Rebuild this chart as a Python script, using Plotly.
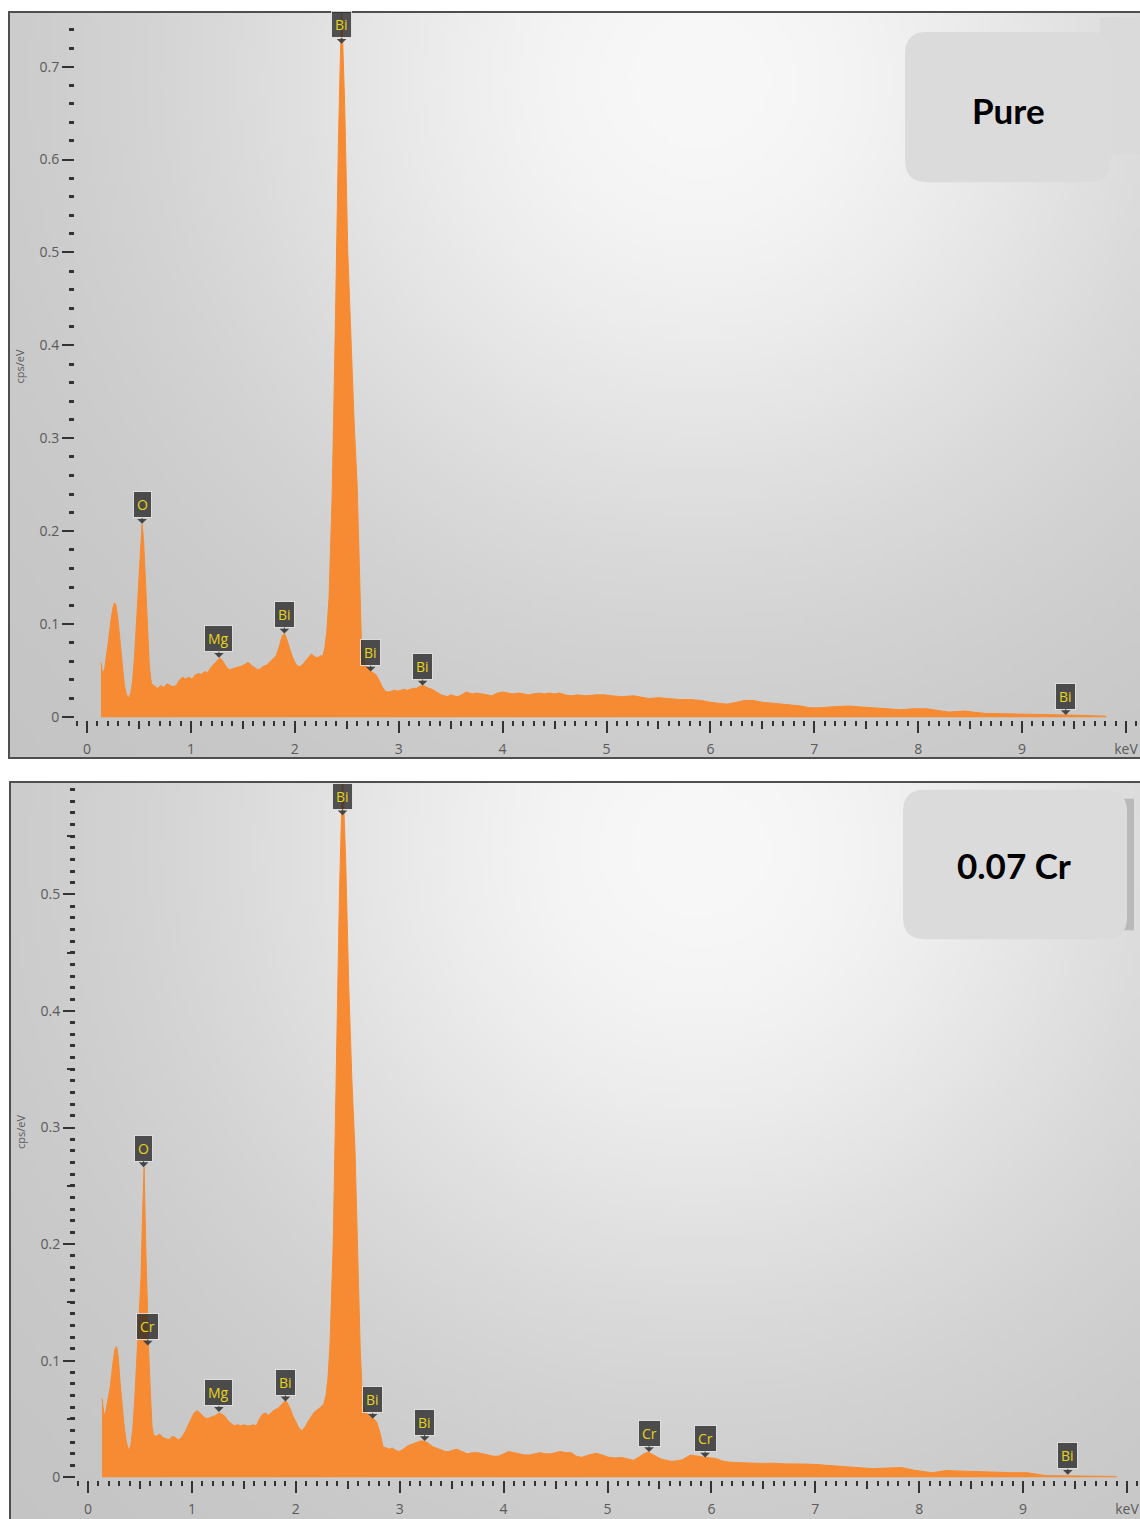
import base64
import struct
import zlib

import numpy as np
import plotly.graph_objects as go

# ---------------------------------------------------------------- data
# EDS spectrum, pure sample (energy in keV, intensity in cps/eV)
energy_pure = [
    0.135, 0.150, 0.170, 0.190, 0.210, 0.230, 0.250, 0.265, 0.280, 0.300,
    0.320, 0.340, 0.360, 0.380, 0.400, 0.420, 0.440, 0.460, 0.480, 0.500,
    0.520, 0.530, 0.545, 0.560, 0.580, 0.600, 0.620, 0.650, 0.680, 0.710,
    0.740, 0.770, 0.800, 0.830, 0.860, 0.890, 0.920, 0.950, 0.980, 1.010,
    1.040, 1.070, 1.100, 1.130, 1.160, 1.190, 1.220, 1.250, 1.280, 1.310,
    1.340, 1.370, 1.400, 1.430, 1.460, 1.490, 1.520, 1.550, 1.580, 1.610,
    1.640, 1.670, 1.700, 1.730, 1.760, 1.790, 1.820, 1.850, 1.880, 1.900,
    1.920, 1.950, 1.980, 2.010, 2.040, 2.070, 2.100, 2.130, 2.160, 2.190,
    2.220, 2.250, 2.270, 2.290, 2.310, 2.330, 2.360, 2.390, 2.420, 2.450,
    2.480, 2.510, 2.540, 2.570, 2.600, 2.620, 2.640, 2.660, 2.690, 2.720,
    2.750, 2.780, 2.810, 2.840, 2.870, 2.900, 2.930, 2.960, 2.990, 3.020,
    3.050, 3.080, 3.110, 3.140, 3.170, 3.200, 3.230, 3.260, 3.290, 3.320,
    3.350, 3.380, 3.410, 3.440, 3.470, 3.500, 3.530, 3.560, 3.590, 3.620,
    3.650, 3.680, 3.710, 3.750, 3.800, 3.850, 3.900, 3.950, 4.000, 4.050,
    4.100, 4.150, 4.200, 4.250, 4.300, 4.350, 4.400, 4.450, 4.500, 4.550,
    4.600, 4.660, 4.720, 4.800, 4.900, 4.980, 5.050, 5.150, 5.260, 5.340,
    5.410, 5.500, 5.620, 5.700, 5.800, 5.910, 6.000, 6.080, 6.160, 6.250,
    6.330, 6.410, 6.500, 6.600, 6.690, 6.780, 6.870, 6.960, 7.050, 7.150,
    7.250, 7.330, 7.450, 7.580, 7.700, 7.830, 7.950, 8.080, 8.200, 8.300,
    8.440, 8.550, 8.650, 8.800, 8.940, 9.050, 9.190, 9.300, 9.430, 9.550,
    9.680, 9.810,
]
counts_pure = [
    0.059, 0.046, 0.052, 0.066, 0.085, 0.104, 0.118, 0.123, 0.120, 0.103,
    0.078, 0.052, 0.034, 0.024, 0.021, 0.025, 0.040, 0.070, 0.110, 0.160,
    0.200, 0.208, 0.190, 0.150, 0.095, 0.055, 0.036, 0.033, 0.031, 0.034,
    0.032, 0.036, 0.034, 0.033, 0.034, 0.040, 0.043, 0.041, 0.043, 0.041,
    0.045, 0.047, 0.046, 0.049, 0.048, 0.053, 0.057, 0.061, 0.064, 0.060,
    0.054, 0.051, 0.052, 0.053, 0.054, 0.055, 0.057, 0.059, 0.056, 0.053,
    0.051, 0.052, 0.055, 0.056, 0.059, 0.062, 0.066, 0.076, 0.088, 0.090,
    0.085, 0.074, 0.064, 0.057, 0.054, 0.056, 0.060, 0.063, 0.068, 0.065,
    0.064, 0.066, 0.066, 0.075, 0.095, 0.130, 0.240, 0.420, 0.620, 0.765,
    0.660, 0.500, 0.400, 0.320, 0.250, 0.150, 0.085, 0.062, 0.055, 0.050,
    0.048, 0.046, 0.040, 0.033, 0.028, 0.027, 0.028, 0.029, 0.028, 0.029,
    0.030, 0.029, 0.030, 0.031, 0.031, 0.033, 0.034, 0.033, 0.031, 0.030,
    0.028, 0.026, 0.024, 0.023, 0.022, 0.024, 0.023, 0.022, 0.023, 0.025,
    0.027, 0.026, 0.025, 0.026, 0.025, 0.024, 0.023, 0.026, 0.027, 0.026,
    0.025, 0.026, 0.025, 0.024, 0.025, 0.026, 0.025, 0.026, 0.025, 0.026,
    0.024, 0.023, 0.024, 0.023, 0.024, 0.024, 0.023, 0.022, 0.023, 0.021,
    0.020, 0.021, 0.020, 0.019, 0.019, 0.018, 0.016, 0.015, 0.014, 0.016,
    0.018, 0.018, 0.016, 0.015, 0.014, 0.013, 0.012, 0.010, 0.010, 0.011,
    0.012, 0.012, 0.011, 0.010, 0.009, 0.008, 0.009, 0.009, 0.007, 0.0055,
    0.0065, 0.005, 0.004, 0.0037, 0.0035, 0.003, 0.0028, 0.0025, 0.0023, 0.002,
    0.0015, 0.001,
]

# EDS spectrum, 0.07 Cr sample
energy_cr = [
    0.135, 0.155, 0.175, 0.195, 0.215, 0.240, 0.260, 0.275, 0.290, 0.310,
    0.330, 0.350, 0.370, 0.390, 0.410, 0.430, 0.450, 0.470, 0.490, 0.510,
    0.525, 0.540, 0.555, 0.570, 0.585, 0.600, 0.615, 0.630, 0.660, 0.690,
    0.720, 0.750, 0.780, 0.810, 0.840, 0.870, 0.900, 0.930, 0.960, 0.990,
    1.020, 1.050, 1.080, 1.110, 1.140, 1.170, 1.200, 1.230, 1.260, 1.290,
    1.320, 1.350, 1.380, 1.410, 1.440, 1.470, 1.500, 1.530, 1.560, 1.590,
    1.620, 1.650, 1.680, 1.710, 1.740, 1.770, 1.800, 1.830, 1.860, 1.890,
    1.910, 1.940, 1.970, 2.000, 2.030, 2.060, 2.090, 2.120, 2.150, 2.180,
    2.210, 2.240, 2.270, 2.290, 2.310, 2.330, 2.360, 2.390, 2.420, 2.450,
    2.480, 2.510, 2.540, 2.570, 2.600, 2.620, 2.640, 2.660, 2.690, 2.720,
    2.750, 2.780, 2.810, 2.840, 2.870, 2.900, 2.930, 2.960, 2.990, 3.020,
    3.050, 3.080, 3.110, 3.140, 3.170, 3.200, 3.230, 3.260, 3.290, 3.320,
    3.350, 3.380, 3.410, 3.440, 3.470, 3.500, 3.550, 3.600, 3.650, 3.700,
    3.750, 3.800, 3.850, 3.900, 3.950, 4.000, 4.050, 4.100, 4.150, 4.200,
    4.250, 4.300, 4.350, 4.400, 4.450, 4.500, 4.540, 4.600, 4.650, 4.700,
    4.750, 4.820, 4.890, 4.950, 5.010, 5.080, 5.140, 5.200, 5.250, 5.300,
    5.350, 5.390, 5.440, 5.510, 5.560, 5.610, 5.670, 5.720, 5.760, 5.800,
    5.870, 5.940, 6.000, 6.050, 6.100, 6.160, 6.250, 6.330, 6.410, 6.500,
    6.600, 6.700, 6.800, 6.900, 6.980, 7.100, 7.260, 7.400, 7.550, 7.700,
    7.830, 7.950, 8.050, 8.120, 8.200, 8.260, 8.370, 8.480, 8.620, 8.760,
    8.900, 9.040, 9.130, 9.220, 9.400, 9.530, 9.700, 9.900,
]
counts_cr = [
    0.068, 0.052, 0.058, 0.068, 0.078, 0.098, 0.110, 0.112, 0.104, 0.080,
    0.058, 0.042, 0.030, 0.023, 0.026, 0.040, 0.068, 0.100, 0.128, 0.170,
    0.225, 0.266, 0.200, 0.140, 0.105, 0.074, 0.045, 0.036, 0.035, 0.037,
    0.034, 0.033, 0.032, 0.035, 0.034, 0.032, 0.034, 0.038, 0.044, 0.050,
    0.055, 0.057, 0.055, 0.052, 0.050, 0.051, 0.052, 0.053, 0.055, 0.054,
    0.052, 0.048, 0.046, 0.044, 0.045, 0.044, 0.045, 0.044, 0.044, 0.045,
    0.044, 0.050, 0.054, 0.055, 0.053, 0.056, 0.058, 0.059, 0.062, 0.065,
    0.065, 0.060, 0.053, 0.047, 0.042, 0.040, 0.043, 0.048, 0.052, 0.056,
    0.058, 0.060, 0.063, 0.070, 0.085, 0.116, 0.200, 0.340, 0.500, 0.605,
    0.530, 0.420, 0.340, 0.280, 0.170, 0.110, 0.070, 0.058, 0.054, 0.051,
    0.050, 0.047, 0.038, 0.026, 0.025, 0.024, 0.025, 0.023, 0.022, 0.023,
    0.025, 0.027, 0.028, 0.029, 0.030, 0.031, 0.031, 0.030, 0.028, 0.026,
    0.025, 0.024, 0.023, 0.022, 0.022, 0.023, 0.024, 0.022, 0.020, 0.021,
    0.021, 0.020, 0.019, 0.018, 0.018, 0.020, 0.022, 0.021, 0.020, 0.019,
    0.019, 0.020, 0.021, 0.020, 0.020, 0.021, 0.022, 0.021, 0.021, 0.018,
    0.017, 0.019, 0.0205, 0.019, 0.017, 0.0165, 0.0168, 0.0155, 0.0146, 0.017,
    0.020, 0.0215, 0.019, 0.0158, 0.0145, 0.0136, 0.014, 0.015, 0.017, 0.019,
    0.018, 0.0168, 0.0165, 0.0158, 0.014, 0.013, 0.0125, 0.0125, 0.012, 0.0118,
    0.012, 0.0114, 0.011, 0.0112, 0.011, 0.0103, 0.0095, 0.0085, 0.0073, 0.0078,
    0.0082, 0.006, 0.0045, 0.0038, 0.0048, 0.0057, 0.0053, 0.005, 0.0042, 0.0038,
    0.0038, 0.0038, 0.0025, 0.0013, 0.0011, 0.001, 0.0008, 0.0006,
]

# peak identification tags: element, energy (keV), tag anchor (cps/eV)
tag_pure_el = ["Bi", "O", "Mg", "Bi", "Bi", "Bi", "Bi"]
tag_pure_e = [2.45, 0.53, 1.27, 1.90, 2.73, 3.23, 9.42]
tag_pure_y = [0.7245, 0.208, 0.064, 0.090, 0.049, 0.034, 0.0023]

tag_cr_el = ["Bi", "O", "Cr", "Mg", "Bi", "Bi", "Bi", "Cr", "Cr", "Bi"]
tag_cr_e = [2.45, 0.535, 0.575, 1.26, 1.90, 2.74, 3.24, 5.40, 5.94, 9.43]
tag_cr_y = [0.568, 0.266, 0.113, 0.056, 0.065, 0.050, 0.031, 0.0215, 0.0168, 0.002]

x_tick_vals = list(range(11))
x_tick_text = ["0", "1", "2", "3", "4", "5", "6", "7", "8", "9", "keV"]

panel_titles = ["Pure", "0.07 Cr"]

# ---------------------------------------------------------------- layout helpers
W, H = 1140, 1519
ORANGE = "#F68B33"
TICK_FONT = dict(family="Open Sans, Noto Sans, sans-serif", size=14, color="#5a5a5a")


def px_x(px):
    return px / W


def px_y(py):
    return 1 - py / H


def gray_png(w, h, cx, cy, spread, lo, hi):
    """Radial grey wash used as the panel background."""
    xs = (np.arange(w) + 0.5) / w
    ys = (np.arange(h) + 0.5) / h
    X, Y = np.meshgrid(xs, ys)
    d2 = ((X - cx) / spread[0]) ** 2 + ((Y - cy) / spread[1]) ** 2
    v = (lo + (hi - lo) * np.exp(-d2)).clip(0, 255).astype(np.uint8)
    raw = b"".join(b"\x00" + row.tobytes() for row in v)

    def chunk(tag, data):
        return (struct.pack(">I", len(data)) + tag + data
                + struct.pack(">I", zlib.crc32(tag + data) & 0xFFFFFFFF))

    png = (b"\x89PNG\r\n\x1a\n"
           + chunk(b"IHDR", struct.pack(">IIBBBBB", w, h, 8, 0, 0, 0, 0))
           + chunk(b"IDAT", zlib.compress(raw, 9))
           + chunk(b"IEND", b""))
    return "data:image/png;base64," + base64.b64encode(png).decode()


def rounded_rect(x0, y0, x1, y1, r):
    X = lambda v: f"{px_x(v):.5f}"
    Y = lambda v: f"{px_y(v):.5f}"
    return (f"M{X(x0 + r)},{Y(y0)} L{X(x1 - r)},{Y(y0)} Q{X(x1)},{Y(y0)} {X(x1)},{Y(y0 + r)} "
            f"L{X(x1)},{Y(y1 - r)} Q{X(x1)},{Y(y1)} {X(x1 - r)},{Y(y1)} "
            f"L{X(x0 + r)},{Y(y1)} Q{X(x0)},{Y(y1)} {X(x0)},{Y(y1 - r)} "
            f"L{X(x0)},{Y(y0 + r)} Q{X(x0)},{Y(y0)} {X(x0 + r)},{Y(y0)} Z")


# panel geometry in pixels
panels = [
    dict(frame=(9, 12, 761), zero_px=(87, 720), kev_px=103.9, unit_px=933.0,
         plot_left=76, plot_top=13, axis_px=74, minor=0.02, mid=None,
         box=(905, 32, 1111, 183), text_xy=(1008, 110), back=(1100, 17, 1142, 155, "#dadada")),
    dict(frame=(10, 785, 1530), zero_px=(88, 1483), kev_px=103.9, unit_px=1170.0,
         plot_left=77, plot_top=787, axis_px=75, minor=0.01, mid=0.05,
         box=(903, 793, 1127, 943), text_xy=(1014, 868), back=(1120, 802, 1134, 934, "#b9b9b9")),
]

spectra = [(energy_pure, counts_pure), (energy_cr, counts_cr)]
tags = [(tag_pure_el, tag_pure_e, tag_pure_y), (tag_cr_el, tag_cr_e, tag_cr_y)]

fig = go.Figure()
layout = dict(
    width=W, height=H, margin=dict(l=0, r=0, t=0, b=0),
    paper_bgcolor="white", plot_bgcolor="rgba(0,0,0,0)",
    showlegend=False, images=[], shapes=[], annotations=[],
)

for k, p in enumerate(panels):
    xa = "x" if k == 0 else "x2"
    ya = "y" if k == 0 else "y2"
    xo = f"x{3 + 2 * k}"          # overlay axis for the half-keV ticks
    yo = f"y{3 + 2 * k}"          # overlay axis for mid y ticks
    zx, zy = p["zero_px"]
    fl, ft, fb = p["frame"]
    x_range = [(p["plot_left"] - zx) / p["kev_px"], (W - zx) / p["kev_px"]]
    y_bottom_px = zy + 3
    y_range = [(zy - y_bottom_px) / p["unit_px"], (zy - p["plot_top"]) / p["unit_px"]]
    x_dom = [px_x(p["plot_left"]), 1.0]
    y_dom = [px_y(y_bottom_px), px_y(p["plot_top"])]

    # panel background wash
    pw, ph = W - fl, fb - ft
    layout["images"].append(dict(
        source=gray_png(200, 140, 690 / 1130, 68 / 748, (520 / 1130, 520 / 748), 195, 248),
        xref="paper", yref="paper", x=px_x(fl), y=px_y(ft),
        sizex=pw / W, sizey=min(ph, 748) / H, sizing="stretch",
        xanchor="left", yanchor="top", layer="below",
    ))

    E, C = spectra[k]
    fig.add_trace(go.Scatter(
        x=E, y=C, mode="lines", xaxis=xa, yaxis=ya,
        line=dict(color=ORANGE, width=1), fill="tozeroy", fillcolor=ORANGE,
        hoverinfo="x+y",
    ))
    # empty traces that carry the overlay tick axes
    fig.add_trace(go.Scatter(x=[None], y=[None], xaxis=xo, yaxis=ya, hoverinfo="skip"))
    if p["mid"]:
        fig.add_trace(go.Scatter(x=[None], y=[None], xaxis=xa, yaxis=yo, hoverinfo="skip"))

    xkey = "xaxis" if k == 0 else "xaxis2"
    ykey = "yaxis" if k == 0 else "yaxis2"
    layout[xkey] = dict(
        domain=x_dom, range=x_range, anchor=ya, showgrid=False, zeroline=False,
        showline=False, ticks="outside", ticklen=12, tickwidth=2, tickcolor="#333333",
        tickmode="array", tickvals=x_tick_vals, ticktext=x_tick_text,
        tickfont=TICK_FONT, ticklabelstandoff=4,
        minor=dict(dtick=0.1, tick0=0, ticks="outside", ticklen=5, tickwidth=2,
                   tickcolor="#333333", showgrid=False),
    )
    layout[f"xaxis{3 + 2 * k}"] = dict(
        overlaying=xa, anchor=ya, range=x_range, showgrid=False, zeroline=False,
        showline=False, ticks="outside", ticklen=8, tickwidth=2, tickcolor="#333333",
        tickmode="array", tickvals=[i + 0.5 for i in range(10)], showticklabels=False,
    )
    layout[ykey] = dict(
        domain=y_dom, range=y_range, anchor="free", position=px_x(p["axis_px"]),
        side="left", showgrid=False, zeroline=False, showline=False,
        ticks="outside", ticklen=12, tickwidth=2, tickcolor="#333333",
        dtick=0.1, tick0=0, tickfont=TICK_FONT,
        minor=dict(dtick=p["minor"], tick0=0, ticks="outside", ticklen=5, tickwidth=3,
                   tickcolor="#333333", showgrid=False),
        title=dict(text="cps/eV", standoff=11,
                   font=dict(family="Open Sans, sans-serif", size=11, color="#5a5a5a")),
    )
    if p["mid"]:
        layout[f"yaxis{3 + 2 * k}"] = dict(
            overlaying=ya, anchor="free", position=px_x(p["axis_px"]), side="left",
            range=y_range, showgrid=False, zeroline=False, showline=False,
            ticks="outside", ticklen=8, tickwidth=2, tickcolor="#333333",
            tickmode="array", tickvals=[0.05 + 0.1 * i for i in range(6)],
            showticklabels=False,
        )

    # element tags
    for el, e, v in zip(*tags[k]):
        layout["annotations"].append(dict(
            x=e, y=v, xref=xa, yref=ya, text=el, showarrow=True,
            ax=0, ay=-19, arrowhead=1, arrowsize=1.6, arrowwidth=1,
            arrowcolor="#454545", standoff=0,
            bgcolor="rgba(42,42,42,0.80)", bordercolor="rgba(235,235,235,0.85)",
            borderwidth=1, borderpad=3,
            font=dict(family="Open Sans, sans-serif", size=14, color="#E8D41C"),
        ))

    # sample caption box
    bx0, by0, bx1, by1 = p["box"]
    b = p["back"]
    layout["shapes"].append(dict(
        type="rect", xref="paper", yref="paper",
        x0=px_x(b[0]), x1=px_x(b[2]), y0=px_y(b[3]), y1=px_y(b[1]),
        fillcolor=b[4], line=dict(width=0), layer="above",
    ))
    layout["shapes"].append(dict(
        type="path", xref="paper", yref="paper", path=rounded_rect(bx0, by0, bx1, by1, 22),
        fillcolor="#dbdbdb", line=dict(width=0), layer="above",
    ))
    tx, ty = p["text_xy"]
    layout["annotations"].append(dict(
        x=px_x(tx), y=px_y(ty), xref="paper", yref="paper", text=f"<b>{panel_titles[k]}</b>",
        showarrow=False, xanchor="center", yanchor="middle",
        font=dict(family="Lato, Open Sans, sans-serif", size=35, color="#000000"),
    ))

    # panel frame
    layout["shapes"].append(dict(
        type="rect", xref="paper", yref="paper",
        x0=px_x(fl), x1=px_x(W + 20), y0=px_y(fb), y1=px_y(ft),
        line=dict(color="#4f4f4f", width=2), fillcolor="rgba(0,0,0,0)", layer="above",
    ))

fig.update_layout(**layout)
fig.write_html("out.html")
